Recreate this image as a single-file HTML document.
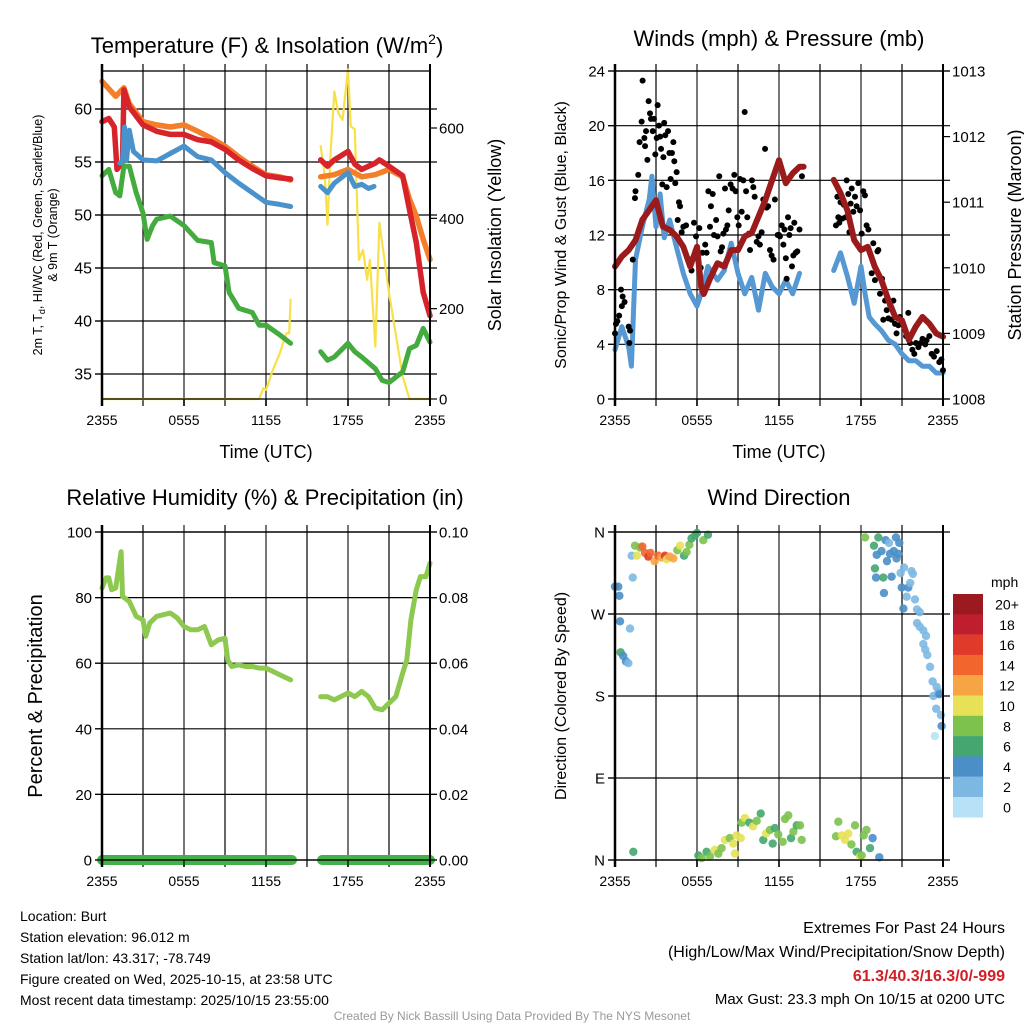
<!DOCTYPE html>
<html><head><meta charset="utf-8"><style>
body{margin:0;background:#fff;width:1024px;height:1024px;overflow:hidden}
svg{font-family:"Liberation Sans",sans-serif}
</style></head><body>
<svg id="s" width="1024" height="1024" viewBox="0 0 1024 1024">
<g id="bg"></g>
<g id="marks"></g>
<g id="ax"></g>
<g id="txt" fill="#000">
<text x="267" y="53" font-size="22" text-anchor="middle">Temperature (F) &amp; Insolation (W/m<tspan font-size="14" dy="-9">2</tspan><tspan dy="9">)</tspan></text>
<text x="779" y="46" font-size="22" text-anchor="middle">Winds (mph) &amp; Pressure (mb)</text>
<text x="265" y="505" font-size="22" text-anchor="middle">Relative Humidity (%) &amp; Precipitation (in)</text>
<text x="779" y="505" font-size="22" text-anchor="middle">Wind Direction</text>
<text x="266" y="458" font-size="18" text-anchor="middle">Time (UTC)</text>
<text x="779" y="458" font-size="18" text-anchor="middle">Time (UTC)</text>
<g transform="translate(42,235) rotate(-90)" font-size="12.5" text-anchor="middle"><text x="0" y="0">2m T, T<tspan font-size="9" dy="3">d</tspan><tspan dy="-3">, HI/WC (Red, Green, Scarlet/Blue)</tspan></text><text x="0" y="15">&amp; 9m T (Orange)</text></g>
<text transform="translate(501,235) rotate(-90)" font-size="18" text-anchor="middle">Solar Insolation (Yellow)</text>
<text transform="translate(566,235) rotate(-90)" font-size="16" text-anchor="middle">Sonic/Prop Wind &amp; Gust (Blue, Black)</text>
<text transform="translate(1021,235) rotate(-90)" font-size="18" text-anchor="middle">Station Pressure (Maroon)</text>
<text transform="translate(42,696) rotate(-90)" font-size="20" text-anchor="middle">Percent &amp; Precipitation</text>
<text transform="translate(566,696) rotate(-90)" font-size="16" text-anchor="middle">Direction (Colored By Speed)</text>
<g font-size="14">
<text x="20" y="921">Location: Burt</text>
<text x="20" y="942">Station elevation: 96.012 m</text>
<text x="20" y="963">Station lat/lon: 43.317; -78.749</text>
<text x="20" y="984">Figure created on Wed, 2025-10-15, at 23:58 UTC</text>
<text x="20" y="1005">Most recent data timestamp: 2025/10/15 23:55:00</text>
</g>
<g font-size="16" text-anchor="end">
<text x="1005" y="933">Extremes For Past 24 Hours</text>
<text x="1005" y="957">(High/Low/Max Wind/Precipitation/Snow Depth)</text>
<text x="1005" y="981" fill="#d21f26" font-weight="bold">61.3/40.3/16.3/0/-999</text>
<text x="1005" y="1004" font-size="15">Max Gust: 23.3 mph On 10/15 at 0200 UTC</text>
</g>
<text x="512" y="1020" font-size="12" fill="#999" text-anchor="middle">Created By Nick Bassill Using Data Provided By The NYS Mesonet</text>
</g>
</svg>
<script>
// ---- data ----
const tempOrangeT=[0,1,1.6,2,3,4,5,6,7,8,9,10,11,12,13,13.8,null,16,17,18,19,20,21,22,22.5,23,23.5,24];
const tempOrangeV=[62.6,61.2,62,60.5,58.8,58.5,58.3,58.5,57.9,57.25,56.5,55.5,54.6,53.8,53.6,53.3,null,53.6,53.8,54.3,53.6,53.8,54.3,53.6,51.5,49.9,47.7,45.8];
const tempRedT=[0,0.5,0.9,1.1,1.5,1.6,2,3,4,5,6,7,8,9,10,11,12,13,13.8,null,16,16.5,17,18,18.5,19,20,20.3,21,22,22.5,23,23.5,24];
const tempRedV=[58.8,59.1,58.3,54.3,55,61.8,60.2,58.5,57.9,57.6,57.6,57.1,56.9,56.2,55.2,54.4,53.7,53.5,53.4,null,55.2,54.6,55.2,56,54.8,54.3,54.9,55.2,54.6,53.7,50.5,47.4,42.7,40.5];
const tempBlueT=[1.3,1.5,1.65,1.8,2,2.3,3,4,5,6,7,8,9,10,11,12,13,13.8,null,16,16.5,17,18,18.5,19,19.5,19.9];
const tempBlueV=[54.9,55,58.3,55.2,58,56,55.2,55.1,55.8,56.5,55.5,55.2,54,53,52.1,51.2,51,50.8,null,52.7,52.1,53,54,52.7,52.9,52.5,52.7];
const dewT=[0,0.5,1,1.3,1.6,2,2.5,3,3.3,3.7,4,5,6,7,8,8.2,9,9.3,10,11,11.5,12,13,13.8,null,16,16.5,17,18,18.5,19,20,20.5,21,22,22.5,23,23.5,24];
const dewV=[53.7,54.3,52.1,51.8,54.6,54.6,52.1,50.2,47.7,49,49.6,49.9,49,47.6,47.4,45.5,45.2,42.7,41.2,40.8,39.6,39.6,38.7,37.9,null,37.1,36.3,36.6,37.9,37.1,36.6,35.5,34.4,34.2,35.2,37.4,37.7,39.3,38];
const solarT=[0,11.5,11.8,12,12.5,13,13.5,13.7,13.8,null,16,16.3,16.5,16.7,17,17.3,17.6,18,18.2,18.5,18.8,19.1,19.4,19.6,20,20.3,21,22,22.3,22.5,24];
const solarV=[0,0,24,20,64,101,146,146,220,null,560,493,386,530,681,633,618,730,604,597,308,330,264,308,116,390,235,50,20,0,0];
const sonicT=[0,0.5,1,1.2,1.5,2,2.5,2.7,3,3.3,3.6,4,4.5,5,5.5,6,6.3,6.8,7.5,8,8.5,9,9.5,10,10.5,11,11.5,12,12.5,13,13.5,null,16,16.5,17,17.5,18,18.3,18.6,19,19.5,20,20.5,21,21.5,22,22.5,23,23.5,24];
const sonicV=[3.6,5.3,3.8,2.4,10.2,12.6,14.6,16.3,12.6,15,11.8,13.1,11.1,9.2,7.7,6.8,7.7,9.7,8.7,9.4,11.4,9.2,7.7,8.9,6.5,9.2,8.2,7.7,8.7,7.7,9.2,null,9.4,10.7,9,7,9.7,7.7,6,5.5,5,4.3,4,3.3,2.8,2.8,2.4,2.4,1.9,1.9];
const presT=[0,0.5,1,1.5,2,2.5,3,3.5,4,4.5,5,5.5,6,6.3,6.5,7,7.5,8,8.5,9,9.5,10,10.5,11,11.5,12,12.5,13,13.5,13.8,null,16,16.5,17,17.5,18,18.5,19,19.5,20,20.5,21,21.5,22,22.5,23,23.5,24];
const presV=[1010.02,1010.17,1010.27,1010.42,1010.73,1010.88,1011.03,1010.63,1010.58,1010.48,1010.32,1010.02,1010.32,1009.71,1009.6,1009.86,1010.07,1010.02,1010.27,1010.27,1010.48,1010.53,1010.78,1011.03,1011.34,1011.64,1011.29,1011.44,1011.54,1011.54,null,1011.34,1011.14,1010.88,1010.42,1010.27,1010.32,1010.02,1009.81,1009.51,1009.25,1009.2,1008.9,1009.1,1009.25,1009.15,1009,1008.95];
const gustT=[0,0.07,0.17,0.3,0.44,0.5,0.56,0.7,1,1.05,1.1,1.3,1.46,1.5,1.7,1.8,1.95,2.02,2.15,2.2,2.27,2.37,2.46,2.56,2.63,2.76,2.85,2.95,3.05,3.12,3.22,3.3,3.37,3.46,3.54,3.6,3.68,3.78,3.88,3.98,4.07,4.17,4.27,4.34,4.41,4.51,4.59,4.68,4.76,4.88,5,5.2,5.5,5.6,5.78,5.93,6.02,6.17,6.27,6.4,6.6,6.7,6.83,6.95,7.02,7.15,7.24,7.4,7.5,7.63,7.73,7.83,7.93,8.05,8.12,8.22,8.32,8.46,8.6,8.73,8.83,8.95,9.05,9.15,9.27,9.39,9.49,9.59,9.68,9.8,9.88,10.02,10.12,10.22,10.37,10.5,10.6,10.73,10.85,10.98,11.1,11.2,11.34,11.46,11.6,11.7,11.9,12,12.07,12.2,12.32,12.4,12.5,12.56,12.66,12.76,12.85,12.95,13.05,13.12,13.22,13.34,13.5,13.68,16.17,16.27,16.34,16.41,16.5,16.63,16.75,16.88,16.95,17.07,17.15,17.24,17.32,17.44,17.56,17.68,17.8,17.93,18.05,18.17,18.29,18.41,18.54,18.78,18.9,19.02,19.2,19.27,19.39,19.54,19.63,19.76,19.88,20,20.12,20.24,20.37,20.49,20.6,20.73,20.85,21,21.15,21.3,21.46,21.59,21.76,21.9,22.02,22.2,22.37,22.5,22.7,22.8,23,23.17,23.34,23.54,23.73,23.88,24];
const gustV=[4.8,5.5,5.7,6.1,8,6.8,7.5,7.1,5.3,4.1,5,10.2,14.7,15.2,16.4,18.8,20.3,23.3,19.1,18.5,19.6,17.5,21.8,20.9,20.5,19.6,20.5,17.9,19.1,21.5,20,19.2,18.3,15.7,17.7,20.2,19.3,15.5,19.6,18,16.1,18,18.8,17.4,15.8,16.6,13.1,14.4,14.1,12.2,12.6,12.7,10.2,9.4,12.9,11.9,10.8,12.5,9.6,10.7,11.3,10.7,15.2,12.6,14.1,15,12,13.1,11.9,16.3,10.8,11.1,12.1,15.4,12.4,12.7,13.8,15.7,15.4,16.4,15.2,13.3,12.7,16.1,13.7,16,21,15.2,13.3,12.1,10.9,16,15.5,14.8,11.5,11.9,11.3,12.2,14.6,18.3,14,14.1,10.9,10.5,10.2,14.6,12,12,11.9,12.7,11.3,12.4,10.3,8.8,13.3,12,12.5,9.7,10.5,12.9,10.7,10.8,12.4,16.3,12.7,14.8,13.3,12.9,14.4,13.2,14.2,13.3,16,15,12.2,14.3,15.4,13.7,14.8,14.1,15.8,13.8,12.1,15.2,14.9,12.7,12.4,9.2,11.4,8.7,10.8,10.9,7.7,8.8,5.8,7.2,6.5,5.9,6.9,5.8,7.2,5.5,4.8,5.4,6,5.5,5.3,4.6,6.3,4.1,3.6,3.3,4.1,3.8,4.1,4.4,4,4.3,4.6,3.3,3.1,3.5,2.7,2.9,2.1];
const rhT=[0,0.3,0.5,0.7,1,1.2,1.4,1.5,2,2.5,3,3.2,3.5,4,4.5,5,5.5,6,6.5,7,7.5,8,8.5,9,9.2,9.5,10,10.5,11,11.5,12,12.5,13,13.8,null,16,16.5,17,18,18.5,19,19.5,20,20.5,21,21.5,22,22.3,22.6,23,23.3,23.7,24];
const rhV=[82.9,86,86,82.4,82.9,88.5,94,80.4,78.8,74.3,73.2,68.2,72.3,74.3,74.8,75.3,73.8,71.2,70.2,70.2,71.2,65.6,67.1,67.6,61,59,59.5,59,59,58.5,58.5,57.5,56.5,54.9,null,49.8,49.8,48.8,50.9,49.8,51.4,49.8,46.3,45.8,47.8,49.8,57,61,73.2,82.4,86.4,86.4,90.5];
const precipT=[0,13.9,null,16.1,24];
const precipV=[0,0,null,0,0];
const dirT=[0,0.24,0.32,1.3,0.37,1.1,0.41,0.6,0.8,0.98,1.34,1.22,1.46,1.6,1.83,2,2.2,2.44,2.6,2.9,3.17,3.4,3.66,3.78,4,4.27,4.56,4.76,5.05,5.24,5.44,5.6,5.85,6,6.46,6.8,6.1,6.34,6.7,6.95,7.3,7.56,7.8,8.05,8.4,8.66,8.78,8.9,9.2,9.27,9.5,9.83,10.1,10.37,10.66,10.85,11.05,11.34,11.54,11.7,11.95,12.27,12.44,12.68,12.88,13.05,13.3,13.54,13.66,16.17,16.34,16.6,16.83,17.07,17.3,17.56,17.68,17.93,18.05,18.2,18.4,18.66,18.85,19.34,18.3,18.95,19.15,19.02,19.1,19.27,19.5,19.63,19.68,19.8,19.9,20.05,20.12,20.24,20.4,20.56,20.6,20.73,20.8,20.9,20.98,21.1,21.15,21.46,21.34,21.6,21.7,21.8,21.95,22.1,22.3,22.1,22.3,22.56,22.76,22.56,22.7,22.85,23.05,23.24,23.54,23.66,23.3,23.73,23.5,23.85,23.9,23.4];
const dirV=[300,300,290,310,262,254,228,224,218,216,9,334,345,334,343,344,337,333,337,328,334,332,334,330,333,331,340,345,334,338,346,353,356,359,351,357,5,2,9,4,11,7,13,22,24,18,7,27,24,41,46,41,37,43,51,22,29,33,18,35,28,20,45,49,24,31,38,38,22,26,42,27,22,29,17,38,9,4,5,27,33,13,24,3,354,345,335,320,310,354,339,310,293,351,328,348,336,311,339,354,331,336,348,315,299,276,321,299,289,304,317,314,286,275,272,260,256,252,246,237,231,225,212,196,190,185,180,182,166,159,147,136];
const dirSpd=[4,4,4,2,4,2,6,4,4,2,6,2,8,10,8,14,14,16,14,12,14,12,16,10,12,12,8,10,6,8,8,6,6,6,8,6,6,8,6,8,10,8,8,10,8,10,10,10,10,8,10,6,10,8,6,6,10,8,6,6,8,8,8,8,6,8,6,8,8,8,8,10,10,10,8,8,6,10,8,8,8,6,4,4,8,6,4,6,4,6,4,6,4,4,4,2,4,4,4,4,4,4,4,2,4,4,2,4,2,2,2,2,2,2,2,2,2,2,2,2,2,2,2,2,2,2,2,4,2,2,4,0];
const cbLabels=["20+","18","16","14","12","10","8","6","4","2","0"];
const cbColors=["#9a1a1f","#be1e2d","#e03a2b","#f2652c","#f7a444","#e6e157","#7cc24c","#45a66f","#4a8fc7","#7db8e3","#b7e1f7"];
const tempTicks=[35,40,45,50,55,60];
const solarTicks=[0,200,400,600];
const windTicks=[0,4,8,12,16,20,24];
const presTicks=[1008,1009,1010,1011,1012,1013];
const rhTicks=[0,20,40,60,80,100];
const prTicks=["0.00","0.02","0.04","0.06","0.08","0.10"];
const dirTicks=["N","E","S","W","N"];
const timeTicks=["2355","0555","1155","1755","2355"];

// ---- helpers ----
const NS="http://www.w3.org/2000/svg";
function el(par,tag,at){const e=document.createElementNS(NS,tag);for(const k in at)e.setAttribute(k,at[k]);document.getElementById(par).appendChild(e);return e;}
const P={t:{x0:102,x1:430,y0:71,y1:399},w:{x0:615,x1:943,y0:71,y1:399},r:{x0:102,x1:430,y0:532,y1:860},d:{x0:615,x1:943,y0:532,y1:860}};
function xs(p,t){return p.x0+(p.x1-p.x0)*t/24;}
function ys(p,v,lo,hi){return p.y1-(p.y1-p.y0)*(v-lo)/(hi-lo);}
const TLO=35-25/10.6,THI=60+38/10.6;
const SHI=600*328/(399-128);
function path(p,T,V,lo,hi){let d="",pen=false;for(let i=0;i<T.length;i++){if(T[i]===null){pen=false;continue;}d+=(pen?"L":"M")+xs(p,T[i]).toFixed(1)+","+ys(p,V[i],lo,hi).toFixed(1);pen=true;}return d;}
function line(name,p,T,V,lo,hi,col,w){const e=el("marks","path",{d:path(p,T,V,lo,hi),fill:"none",stroke:col,"stroke-width":w,"stroke-linejoin":"round","stroke-linecap":"round"});

}

// ---- frames & grids ----
for(const k in P){const p=P[k];
 const g=el("bg","g",{});
 
 
 for(let h=3;h<24;h+=3){const x=xs(p,h);el("bg","line",{x1:x,x2:x,y1:p.y0-7,y2:p.y1+7,stroke:h%6==0?"#777":"#000","stroke-width":h%6==0?2:1.2});}
 const f=el("ax","rect",{x:p.x0,y:p.y0,width:p.x1-p.x0,height:p.y1-p.y0,fill:"none",stroke:"#000","stroke-width":1.3});
 
 
 el("ax","line",{x1:p.x0,x2:p.x0,y1:p.y0-7,y2:p.y1+7,stroke:"#000","stroke-width":2.5});
 el("ax","line",{x1:p.x1,x2:p.x1,y1:p.y0-7,y2:p.y1+7,stroke:"#000","stroke-width":2});
 timeTicks.forEach((s,i)=>{const x=xs(p,i*6);
  el("ax","line",{x1:x,x2:x,y1:p.y1,y2:p.y1+7,stroke:"#000","stroke-width":1.2});
  const t=el("ax","text",{x:x,y:p.y1+26,"font-size":14,"text-anchor":"middle"});t.textContent=s;
  
  
 });
}
function yaxis(p,ticks,lo,hi,side,labels,fs){ticks.forEach((v,i)=>{const y=ys(p,v,lo,hi);
 const x=side=="l"?p.x0:p.x1;
 el("bg","line",{x1:p.x0-7,x2:p.x1+7,y1:y,y2:y,stroke:side=="l"?"#000":"none","stroke-width":1.2});
 el("ax","line",{x1:x,x2:side=="l"?x-7:x+7,y1:y,y2:y,stroke:"#000","stroke-width":1.2});
 const t=el("ax","text",{x:side=="l"?x-10:x+9,y:y+5.5,"font-size":fs||16,"text-anchor":side=="l"?"end":"start"});
 t.textContent=labels?labels[i]:v;
 
 
});}
yaxis(P.t,tempTicks,TLO,THI,"l");
yaxis(P.t,solarTicks,0,SHI,"r",null,15);
yaxis(P.w,windTicks,0,24,"l",null,15);
yaxis(P.w,presTicks,1008,1013,"r",null,15);
yaxis(P.r,rhTicks,0,100,"l",null,15);
yaxis(P.r,[0,20,40,60,80,100],0,100,"r",prTicks,15);
yaxis(P.d,[0,90,180,270,360],0,360,"l",dirTicks,15);

// ---- panel 1 ----
line("solar-line",P.t,solarT,solarV,0,SHI,"#f8e04a",2.2);
line("temp-9m-line",P.t,tempOrangeT,tempOrangeV,TLO,THI,"#f47f2a",5.5);
line("temp-2m-line",P.t,tempRedT,tempRedV,TLO,THI,"#d7232a",5.5);
line("heat-index-line",P.t,tempBlueT,tempBlueV,TLO,THI,"#4a92cc",5);
line("dewpoint-line",P.t,dewT,dewV,TLO,THI,"#44ab3f",5);
// ---- panel 2 ----
line("sonic-wind-line",P.w,sonicT,sonicV,0,24,"#5598d3",5);
gustT.forEach((t,i)=>{const c=el("marks","circle",{cx:xs(P.w,t),cy:ys(P.w,gustV[i],0,24),r:3,fill:"#000"});
 
 });
line("pressure-line",P.w,presT,presV,1008,1013,"#9b1a1c",6);
// ---- panel 3 ----
line("rh-line",P.r,rhT,rhV,0,100,"#8dc84f",5);
line("precip-line",P.r,precipT,precipV,0,0.1,"#46b04a",10);
// ---- panel 4 ----
dirT.forEach((t,i)=>{const idx=10-Math.min(10,Math.round(dirSpd[i]/2));
 const c=el("marks","circle",{cx:xs(P.d,t),cy:ys(P.d,dirV[i],0,360),r:4.2,fill:cbColors[idx],opacity:0.9});
 
 });
// colorbar
const cbt=el("ax","text",{x:991,y:587,"font-size":14});cbt.textContent="mph";


cbLabels.forEach((s,i)=>{const y=594+i*20.3;
 const r=el("ax","rect",{x:953,y:y,width:30,height:20.5,fill:cbColors[i]});
 
 
 const t=el("ax","text",{x:1007,y:y+15.5,"font-size":14,"text-anchor":"middle"});t.textContent=s;
 
 
});
</script>
</body></html>
